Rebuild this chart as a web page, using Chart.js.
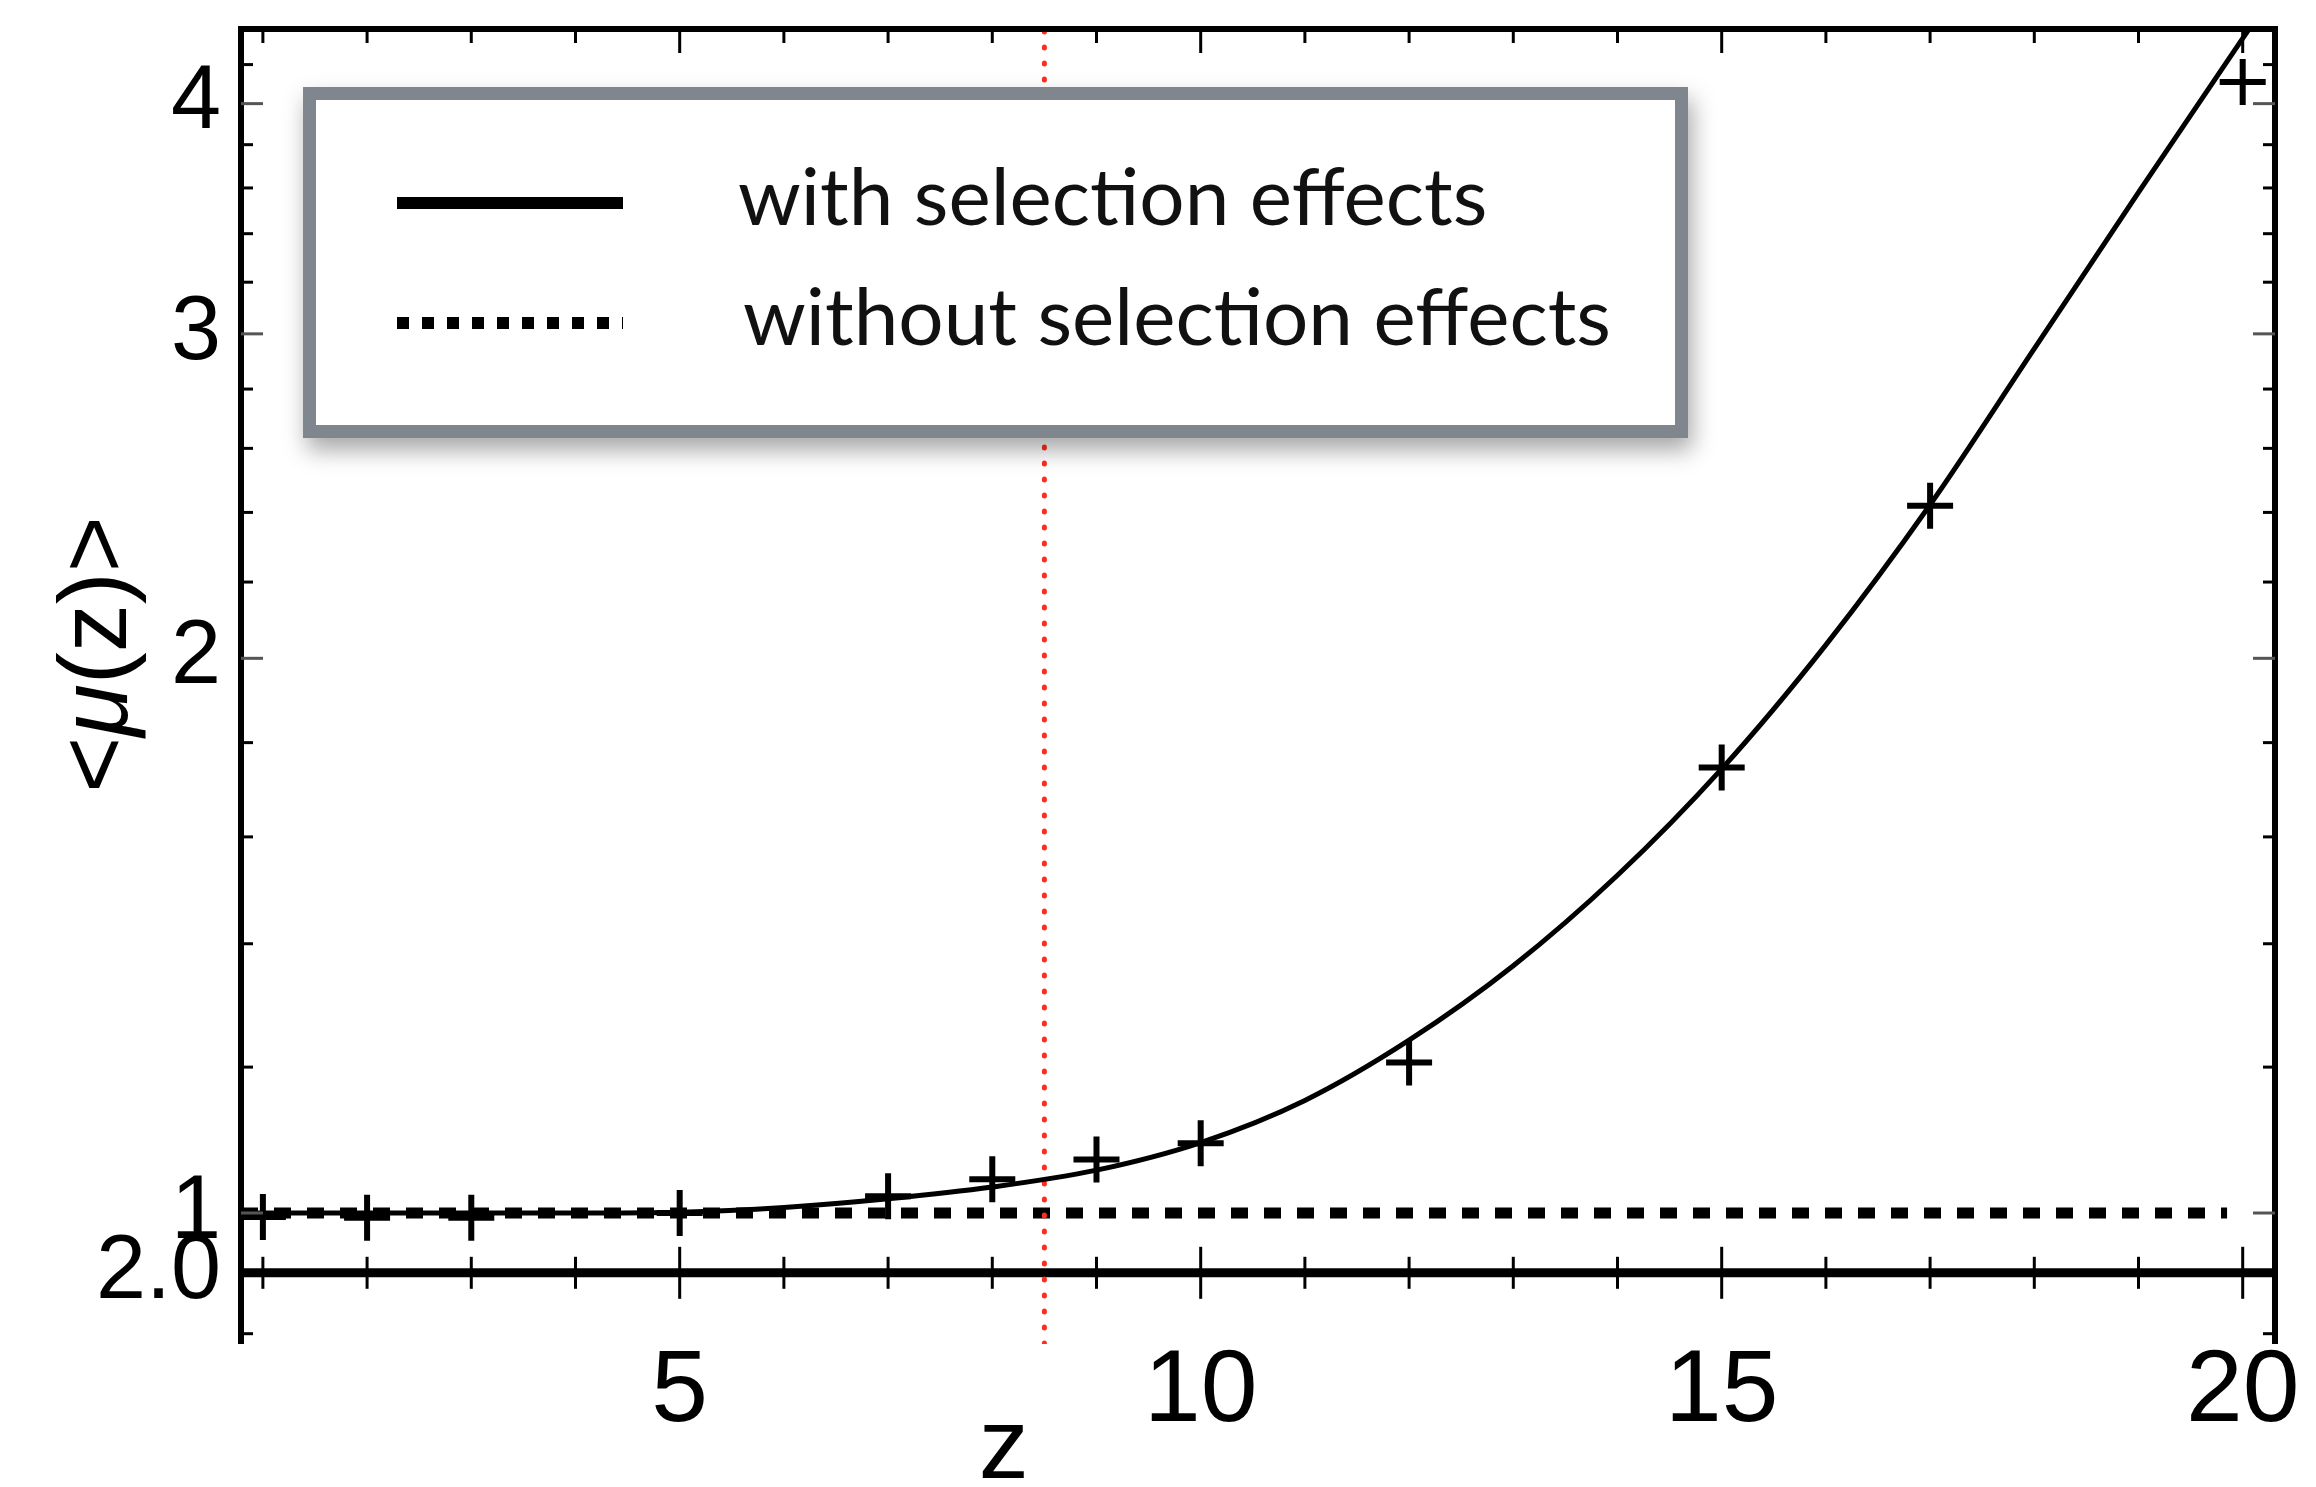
<!DOCTYPE html>
<html>
<head>
<meta charset="utf-8">
<script src="https://cdn.jsdelivr.net/npm/chart.js@4.4.0/dist/chart.umd.min.js"></script>
<style>
  html, body { margin: 0; padding: 0; background: #fff; }
  canvas { display: block; }
</style>
</head>
<body>
<canvas id="chart" width="2316" height="1487"></canvas>
<script>
// simulated points (crosses)
const pointZ = [1, 2, 3, 5, 7, 8, 9, 10, 12, 15, 17, 20];
const pointMu = [0.995, 0.994, 0.994, 1.0, 1.021, 1.043, 1.069, 1.091, 1.207, 1.745, 2.42, 4.11];

// solid curve "with selection effects"
const curveZ = [0.79, 2, 3, 4, 5, 6, 7, 8, 9, 10, 11, 12, 13, 14, 15, 16, 17, 18, 19, 20, 20.06];
const curveMu = [1.0, 1.0, 1.0, 1.0, 1.001, 1.007, 1.018, 1.033, 1.055, 1.092, 1.151, 1.241, 1.362, 1.525, 1.742, 2.034, 2.423, 2.945, 3.58, 4.34, 4.39];

// dotted line "without selection effects"
const noSelZ = [0.79, 19.85];
const noSelMu = [1, 1];

// red cut line and the extra axis line labelled 2.0
const zCut = 8.5;
const axisMu = 0.928;

// axis ranges and ticks
const xMin = 0.79, xMax = 20.31;
const yMin = 0.849, yMax = 4.391;
const xTickValues = [5, 10, 15, 20];
const xMinorTicks = [1, 2, 3, 4, 5, 6, 7, 8, 9, 10, 11, 12, 13, 14, 15, 16, 17, 18, 19, 20];
const yTickValues = [0.86, 0.928, 1, 1.2, 1.4, 1.6, 1.8, 2, 2.2, 2.4, 2.6, 2.8, 3, 3.2, 3.4, 3.6, 3.8, 4, 4.2];
const yTickText  = [null, '2.0', '1', null, null, null, null, '2', null, null, null, null, '3', null, null, null, null, '4', null];

const toXY = (xs, ys) => xs.map((v, i) => ({x: v, y: ys[i]}));

//draws the box around the plot and all the little inward ticks
const framePlugin = {
  id: 'frame',
  afterDatasetsDraw(chart) {
    const {ctx, chartArea: a, scales: {x, y}} = chart;
    const seg = (x1, y1, x2, y2) => { ctx.beginPath(); ctx.moveTo(x1, y1); ctx.lineTo(x2, y2); ctx.stroke(); };
    ctx.save();
    ctx.strokeStyle = '#000';
    ctx.lineWidth = 6;
    ctx.beginPath();
    ctx.moveTo(a.left, a.bottom);
    ctx.lineTo(a.left, a.top);
    ctx.lineTo(a.right, a.top);
    ctx.lineTo(a.right, a.bottom);
    ctx.stroke();

    ctx.lineWidth = 3;
    const py = y.getPixelForValue(axisMu);
    xMinorTicks.forEach(v => {
      const px = x.getPixelForValue(v);
      const major = xTickValues.includes(v);
      seg(px, a.top, px, a.top + (major ? 24 : 14));
      const len = major ? 26 : 16;
      seg(px, py - len, px, py + len);
    });

    yTickValues.forEach((v, i) => {
      if (v === axisMu) return;
      const p = y.getPixelForValue(v);
      const len = yTickText[i] ? 22 : 12;
      ctx.strokeStyle = yTickText[i] ? '#555' : '#000';
      seg(a.left, p, a.left + len, p);
      seg(a.right, p, a.right - len, p);
    });
    ctx.restore();
  }
};

//legend box with grey border and shadow, entries come from the datasets
const boxLegendPlugin = {
  id: 'boxLegend',
  afterDraw(chart) {
    const {ctx, chartArea: a} = chart;
    const bx = a.left + 62, by = a.top + 58, bw = 1385, bh = 351;
    ctx.save();
    ctx.shadowColor = 'rgba(0,0,0,0.35)';
    ctx.shadowBlur = 22;
    ctx.shadowOffsetX = 4;
    ctx.shadowOffsetY = 12;
    ctx.fillStyle = '#fff';
    ctx.fillRect(bx, by, bw, bh);
    ctx.restore();

    ctx.save();
    ctx.strokeStyle = '#80868d';
    ctx.lineWidth = 13;
    ctx.strokeRect(bx + 6.5, by + 6.5, bw - 13, bh - 13);

    const items = chart.data.datasets.filter(d => d.inLegend);
    items.forEach((d, i) => {
      const ly = by + 116 + i * 120;
      ctx.strokeStyle = '#000';
      ctx.lineWidth = 12;
      ctx.setLineDash(d.borderDash ? [12, 13] : []);
      ctx.beginPath();
      ctx.moveTo(bx + 94, ly);
      ctx.lineTo(bx + 320, ly);
      ctx.stroke();
      ctx.setLineDash([]);
      ctx.fillStyle = '#111';
      ctx.font = '80px Lato';
      ctx.textBaseline = 'alphabetic';
      ctx.fillText(d.label, bx + 435 + i * 5, ly + 22);
    });
    ctx.restore();
  }
};

//axis titles: <μ(z)> with italic mu, and z
const titlesPlugin = {
  id: 'titles',
  afterDraw(chart) {
    const {ctx, chartArea: a} = chart;
    ctx.save();
    ctx.fillStyle = '#000';
    ctx.textBaseline = 'alphabetic';
    ctx.font = '100px "Liberation Sans"';
    ctx.textAlign = 'center';
    ctx.fillText('z', a.left + (a.right - a.left) * 0.375, a.bottom + 134);

    const parts = [['<', 'normal'], ['\u03bc', 'italic'], ['(z)>', 'normal']];
    const fontOf = s => s + ' 96px "Liberation Sans"';
    let total = 0;
    ctx.textBaseline = 'middle';
    parts.forEach(p => { ctx.font = fontOf(p[1]); total += ctx.measureText(p[0]).width; });
    ctx.translate(100, (a.top + a.bottom) / 2 - 32);
    ctx.rotate(-Math.PI / 2);
    ctx.textAlign = 'left';
    let cx = -total / 2;
    parts.forEach(p => {
      ctx.font = fontOf(p[1]);
      ctx.fillText(p[0], cx, 0);
      cx += ctx.measureText(p[0]).width;
    });
    ctx.restore();
  }
};

const config = {
  type: 'line',
  data: {
    datasets: [
      {
        label: 'simulation',
        data: toXY(pointZ, pointMu),
        showLine: false,
        pointStyle: 'cross',
        pointRadius: 23,
        pointBorderWidth: 6,
        pointBorderColor: '#000',
        borderColor: '#000'
      },
      {
        label: 'with selection effects',
        inLegend: true,
        data: toXY(curveZ, curveMu),
        borderColor: '#000',
        borderWidth: 5,
        pointRadius: 0,
        cubicInterpolationMode: 'monotone'
      },
      {
        label: 'z cut',
        data: [{x: zCut, y: yMin}, {x: zCut, y: yMax}],
        borderColor: '#ff2d1f',
        borderWidth: 5,
        borderDash: [1, 15],
        borderCapStyle: 'round',
        pointRadius: 0
      },
      {
        label: 'without selection effects',
        inLegend: true,
        data: toXY(noSelZ, noSelMu),
        borderColor: '#000',
        borderWidth: 11,
        borderDash: [17, 16],
        pointRadius: 0
      },
      {
        label: 'axis',
        data: [{x: xMin, y: axisMu}, {x: xMax, y: axisMu}],
        borderColor: '#000',
        borderWidth: 9,
        pointRadius: 0
      }
    ]
  },
  options: {
    responsive: false,
    animation: false,
    devicePixelRatio: 1,
    layout: {padding: {left: 0, top: 21, right: 41, bottom: 0}},
    plugins: {legend: {display: false}, tooltip: {enabled: false}},
    scales: {
      x: {
        type: 'linear',
        min: xMin,
        max: xMax,
        afterBuildTicks: s => { s.ticks = xTickValues.map(v => ({value: v})); },
        afterFit: s => { s.height = 143; s.paddingLeft = 0; s.paddingRight = 0; },
        grid: {display: false, drawTicks: false},
        border: {display: false},
        ticks: {
          autoSkip: false,
          maxRotation: 0,
          padding: -12,
          color: '#000',
          font: {family: 'Liberation Sans', size: 102}
        }
      },
      y: {
        type: 'logarithmic',
        min: yMin,
        max: yMax,
        afterBuildTicks: s => { s.ticks = yTickValues.map(v => ({value: v})); },
        afterFit: s => { s.width = 241; s.paddingTop = 0; s.paddingBottom = 0; },
        grid: {display: false, drawTicks: false},
        border: {display: false},
        ticks: {
          autoSkip: false,
          padding: 20,
          color: '#000',
          font: {family: 'Liberation Sans', size: 90},
          callback: (v, i) => yTickText[i]
        }
      }
    }
  },
  plugins: [framePlugin, boxLegendPlugin, titlesPlugin]
};

const myChart = new Chart(document.getElementById('chart'), config);
</script>
</body>
</html>
